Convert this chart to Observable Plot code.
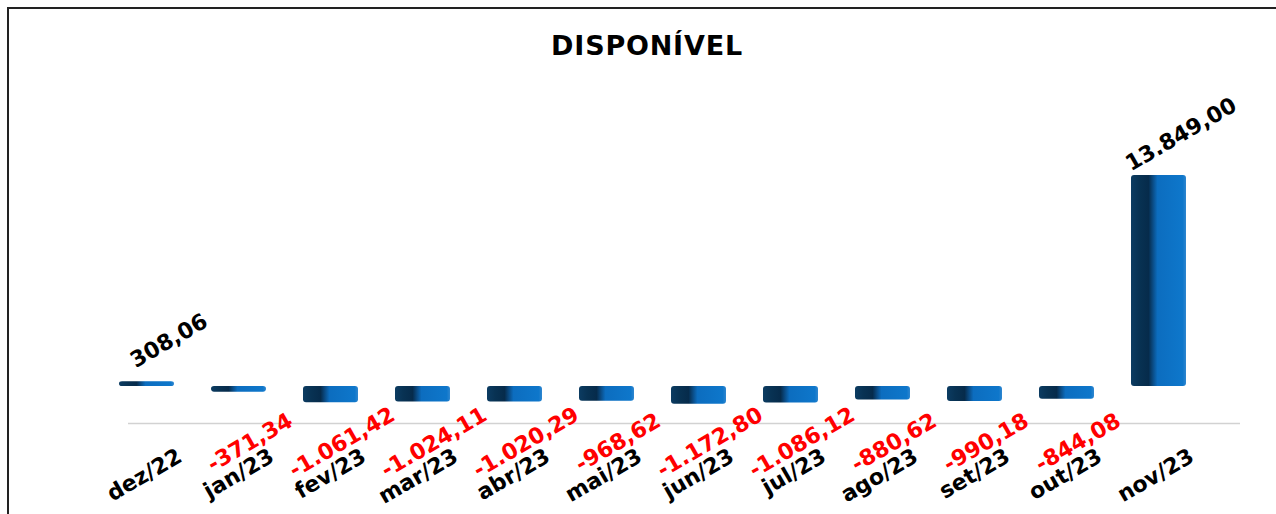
<!DOCTYPE html>
<html>
<head>
<meta charset="utf-8">
<script src="https://cdn.jsdelivr.net/npm/d3@7"></script>
<script src="https://cdn.jsdelivr.net/npm/@observablehq/plot@0.6"></script>
<style>
  html, body { margin: 0; padding: 0; background: #fff; overflow: hidden; width: 1276px; height: 514px; }
  #frame { position: absolute; left: 7px; top: 7px; width: 1320px; height: 600px; border: 2px solid #222; box-sizing: border-box; }
  #title { position: absolute; left: 0; top: 32px; width: 1294px; text-align: center;
           font-family: "DejaVu Sans", sans-serif; font-weight: bold; font-size: 27px; line-height: 27px; color: #000; letter-spacing: 0.8px; }
  #chart svg { position: absolute; left: 0; top: 0; }
</style>
</head>
<body>
<div id="frame"></div>
<div id="chart"></div>
<div id="title">DISPONÍVEL</div>
<script>
const months = ["dez/22", "jan/23", "fev/23", "mar/23", "abr/23", "mai/23", "jun/23", "jul/23", "ago/23", "set/23", "out/23", "nov/23"];
const values = [308.06, -371.34, -1061.42, -1024.11, -1020.29, -968.62, -1172.80, -1086.12, -880.62, -990.18, -844.08, 13849.00];
const FLOOR = -2430; // value level of the 3D floor line

const rows = months.map((m, i) => ({month: m, value: values[i]}));
const br = d3.formatLocale({decimal: ",", thousands: ".", grouping: [3], currency: ["R$", ""], minus: "-"});
const fmt = br.format(",.2f");
const pos = rows.filter(d => d.value >= 0);
const neg = rows.filter(d => d.value < 0);

const labelFont = {fontFamily: "DejaVu Sans", fontWeight: "bold", fontSize: 22};

const chart = Plot.plot({
  width: 1276,
  height: 514,
  marginLeft: 128,
  marginRight: 36,
  marginTop: 0,
  marginBottom: 0,
  style: {background: "transparent", overflow: "visible"},
  x: {type: "band", domain: months, range: [99, 1206], paddingInner: 0.4, paddingOuter: 0.2, axis: null},
  y: {domain: [0, 13849], range: [386, 175], axis: null},
  marks: [
    Plot.ruleY([FLOOR], {stroke: "#d2d2d2", strokeWidth: 1.5}),
    Plot.barY(rows, {x: "month", y1: 0, y2: "value", fill: "url(#barGrad)", rx: 3}),
    Plot.text(pos, {x: "month", y: "value", text: d => fmt(d.value), rotate: -30, dx: 22, dy: -41, fill: "#000", ...labelFont}),
    Plot.text(rows, {x: "month", y: () => FLOOR, text: "month", rotate: -30, textAnchor: "end", dx: 33, dy: 31, fill: "#000", ...labelFont}),
    Plot.text(neg, {x: "month", y: () => FLOOR, text: d => fmt(d.value), rotate: -30, dx: 11, dy: 19, fill: "#ff0000", ...labelFont})
  ]
});

const defs = d3.select(chart).insert("defs", ":first-child");
const g = defs.append("linearGradient").attr("id", "barGrad").attr("x1", "0").attr("x2", "1").attr("y1", "0").attr("y2", "0");
[["0", "#0c3c62"], ["0.15", "#083253"], ["0.32", "#062b4b"], ["0.40", "#0a4c86"], ["0.48", "#0c6dbf"], ["0.94", "#0e77cb"], ["1", "#2f86cf"]]
  .forEach(([o, c]) => g.append("stop").attr("offset", o).attr("stop-color", c));

document.getElementById("chart").appendChild(chart);
</script>
</body>
</html>
